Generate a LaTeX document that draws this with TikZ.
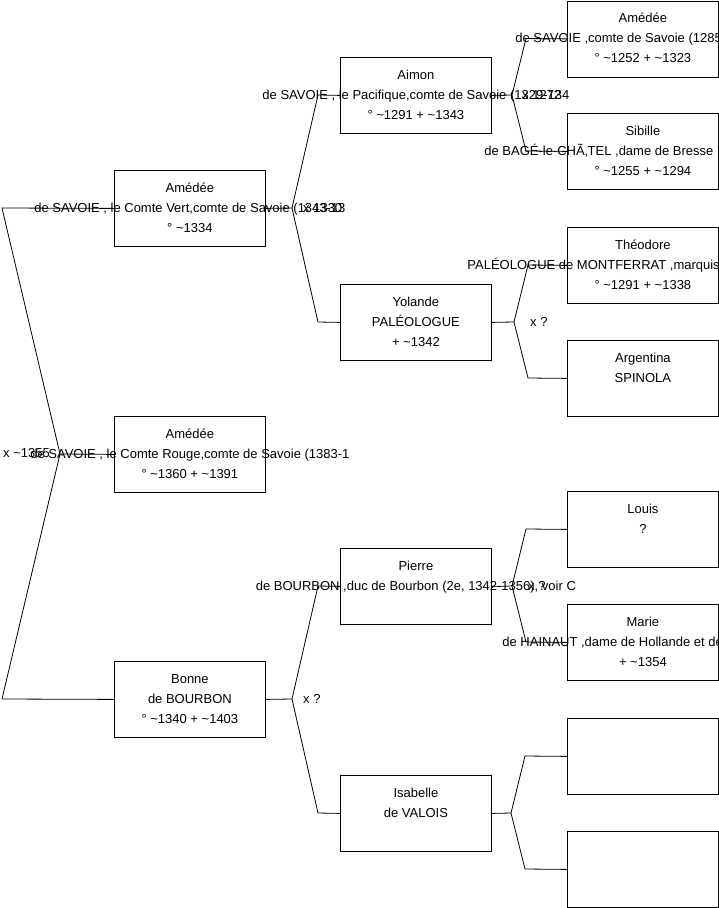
\documentclass[tikz,border=0pt]{standalone}
\usepackage{fontspec}
\setmainfont{Liberation Sans}
\newcommand{\ov}[1]{\makebox[0pt]{#1}}
\newcommand{\ovl}[2]{\makebox[0pt]{\makebox[#1][l]{#2}}}
\newcommand{\pl}[3]{\strut #1\\\strut #2\\\strut #3}
\begin{document}
\begin{tikzpicture}[x=1pt,y=-1pt,
  person/.style={draw=black, line width=0.8pt, minimum width=151pt, minimum height=76pt,
    inner sep=0pt, align=center, anchor=north west, font=\fontsize{13}{20}\selectfont},
  link/.style={draw=black, line width=0.8pt},
  marr/.style={anchor=west, inner sep=0pt, font=\fontsize{13}{20}\selectfont}]
\path[fill=white,use as bounding box] (0,0) rectangle (719,908);

% column 1
\node[person] (vert)  at (114,170) {\pl{Amédée}{\ov{de SAVOIE , le Comte Vert,comte de Savoie (1343-13}}{° \textasciitilde 1334}};
\node[person] (rouge) at (114,416) {\pl{Amédée}{\ov{de SAVOIE , le Comte Rouge,comte de Savoie (1383-1}}{° \textasciitilde 1360 + \textasciitilde 1391}};
\node[person] (bonne) at (114,661) {\pl{Bonne}{de BOURBON}{° \textasciitilde 1340 + \textasciitilde 1403}};

% column 2
\node[person] (aimon)    at (340,57)  {\pl{Aimon}{\ov{de SAVOIE , le Pacifique,comte de Savoie (1329-134}}{° \textasciitilde 1291 + \textasciitilde 1343}};
\node[person] (yolande)  at (340,284) {\pl{Yolande}{PALÉOLOGUE}{+ \textasciitilde 1342}};
\node[person] (pierre)   at (340,548) {\pl{Pierre}{\ov{de BOURBON ,duc de Bourbon (2e, 1342-1356), voir C}}{}};
\node[person] (isabelle) at (340,775) {\pl{Isabelle}{de VALOIS}{}};

% column 3
\node[person] (am5)       at (567,0.5) {\pl{Amédée}{\ovl{255pt}{de SAVOIE ,comte de Savoie (1285-1323)}}{° \textasciitilde 1252 + \textasciitilde 1323}};
\node[person] (sibille)   at (567,113) {\pl{Sibille}{\ovl{317pt}{de BAGÉ-le-CHÃ‚TEL ,dame de Bresse}}{° \textasciitilde 1255 + \textasciitilde 1294}};
\node[person] (theodore)  at (567,227) {\pl{Théodore}{\ovl{351pt}{PALÉOLOGUE de MONTFERRAT ,marquis}}{° \textasciitilde 1291 + \textasciitilde 1338}};
\node[person] (argentina) at (567,340) {\pl{Argentina}{SPINOLA}{}};
\node[person] (louis)     at (567,491) {\pl{Louis}{?}{}};
\node[person] (marie)     at (567,604) {\pl{Marie}{\ovl{281pt}{de HAINAUT ,dame de Hollande et de}}{+ \textasciitilde 1354}};
\node[person] (e1)        at (567,718) {\pl{}{}{}};
\node[person] (e2)        at (567,831) {\pl{}{}{}};

% fork points and bends
\coordinate (f0) at (60,454);
\coordinate (b0a) at (2,208);
\coordinate (b0b) at (2,699);
\coordinate (f1) at (292,208);
\coordinate (b1a) at (318,95);
\coordinate (b1b) at (318,322);
\coordinate (f2) at (292,699);
\coordinate (b2a) at (318,586);
\coordinate (b2b) at (318,813);
\coordinate (f3) at (512,95);
\coordinate (b3a) at (526,38.5);
\coordinate (b3b) at (526,151);
\coordinate (f4) at (514,322);
\coordinate (b4a) at (528,265);
\coordinate (b4b) at (528,378);
\coordinate (f5) at (512,586);
\coordinate (b5a) at (526,529);
\coordinate (b5b) at (526,642);
\coordinate (f6) at (511,813);
\coordinate (b6a) at (525,756);
\coordinate (b6b) at (525,869);

\draw[link] (rouge.west) -- (f0) -- (b0a) -- (vert.west);
\draw[link] (f0) -- (b0b) -- (bonne.west);
\draw[link] (vert.east) -- (f1) -- (b1a) -- (aimon.west);
\draw[link] (f1) -- (b1b) -- (yolande.west);
\draw[link] (bonne.east) -- (f2) -- (b2a) -- (pierre.west);
\draw[link] (f2) -- (b2b) -- (isabelle.west);
\draw[link] (aimon.east) -- (f3) -- (b3a) -- (am5.west);
\draw[link] (f3) -- (b3b) -- (sibille.west);
\draw[link] (yolande.east) -- (f4) -- (b4a) -- (theodore.west);
\draw[link] (f4) -- (b4b) -- (argentina.west);
\draw[link] (pierre.east) -- (f5) -- (b5a) -- (louis.west);
\draw[link] (f5) -- (b5b) -- (marie.west);
\draw[link] (isabelle.east) -- (f6) -- (b6a) -- (e1.west);
\draw[link] (f6) -- (b6b) -- (e2.west);

% marriage labels
\node[marr] (m0) at (3,453) {x \textasciitilde 1355};
\node[marr] (m1) at (303,208) {x 1330};
\node[marr] (m2) at (303,699) {x ?};
\node[marr] (m3) at (522,95) {x 1272};
\node[marr] (m4) at (530,322) {x ?};
\node[marr] (m5) at (528,586) {x ?};
\end{tikzpicture}
\end{document}
